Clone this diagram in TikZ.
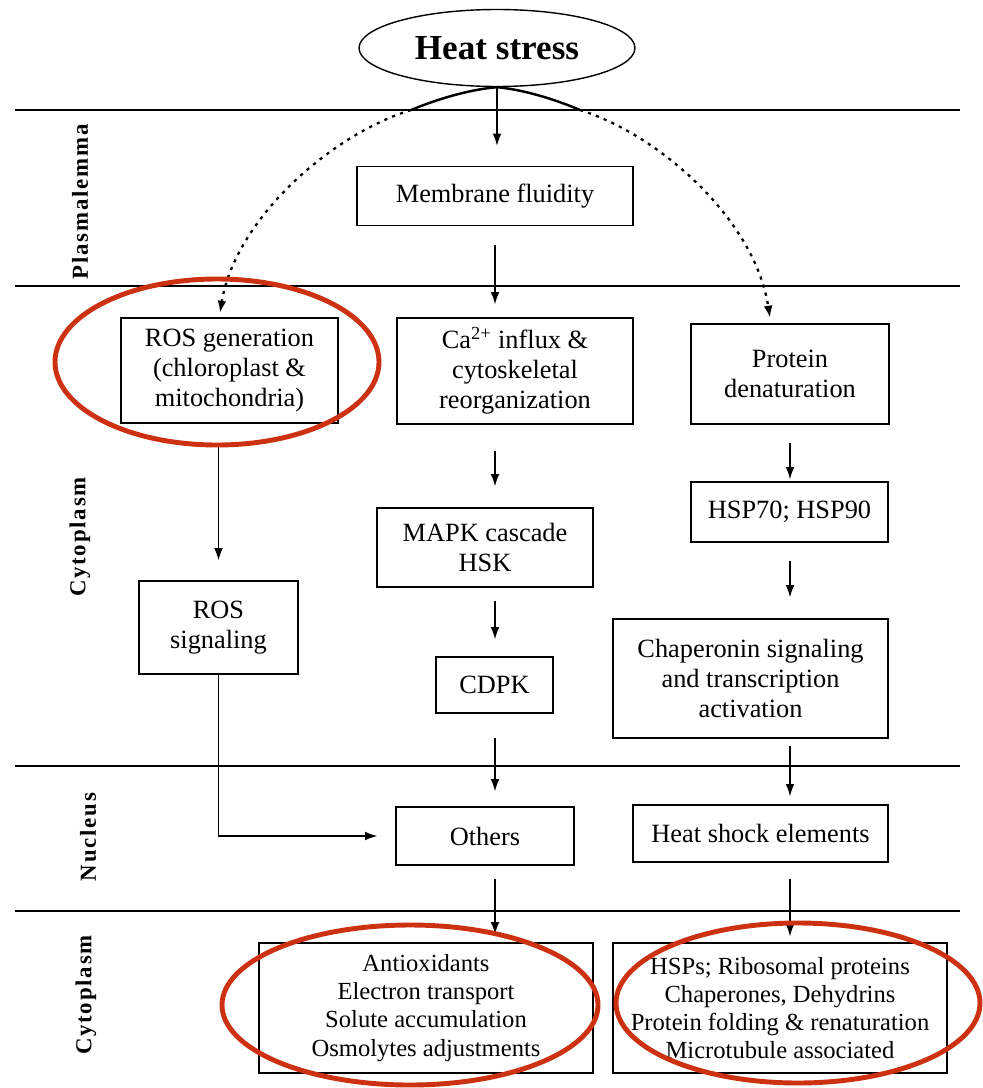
\documentclass[tikz,border=0pt]{standalone}
\usepackage{fontspec}
\setmainfont{Liberation Serif}
\newfontfamily\sidefont[LetterSpace=8]{Liberation Serif}
\usepackage{tikz}
\usetikzlibrary{shapes.geometric,arrows.meta}
\definecolor{circred}{RGB}{204,50,18}

\begin{document}
\begin{tikzpicture}[x=0.02cm,y=-0.02cm,
    box/.style={draw,line width=0.8pt,align=center,inner sep=0pt,font=\fontsize{15}{17}\selectfont},
    outbox/.style={box,font=\fontsize{14}{16}\selectfont},
    arr/.style={-{Latex[length=7pt,width=5pt]},line width=0.8pt},
    layer/.style={line width=0.8pt},
    sidelabel/.style={rotate=90,font=\sidefont\bfseries\fontsize{13}{15}\selectfont},
    hilite/.style={draw=circred,line width=2.8pt},
    dots/.style={line width=1.3pt,dash pattern=on 1.8pt off 3pt}]
            \path[fill=white] (0,0) rectangle (982,1088);
            \foreach \yy in {110,286,766,911}
                \draw[layer] (15,\yy) -- (960,\yy);

            \node[sidelabel] at (80,202) (plasma) {Plasmalemma};
            \node[sidelabel] at (80,537) (cyto) {Cytoplasm};
            \node[sidelabel] at (88,837) (nucl) {Nucleus};
            \node[sidelabel] at (86,995) (cytob) {Cytoplasm};

            \node[draw,ellipse,line width=0.8pt,inner sep=0pt,minimum width=5.52cm,minimum height=1.54cm,
                  font=\bfseries\fontsize{20}{24}\selectfont] at (497,48) (heat) {Heat stress};
            \node[box,minimum width=5.52cm,minimum height=1.18cm] at (495,196) (mf) {Membrane fluidity};
            \node[box,minimum width=4.34cm,minimum height=2.1cm] at (229.5,370.5) (rosgen) {ROS generation\\(chloroplast \&\\mitochondria)};
            \node[box,minimum width=4.72cm,minimum height=2.12cm] at (515,371) (ca) {Ca\textsuperscript{2+} influx \&\\cytoskeletal\\reorganization};
            \node[box,minimum width=3.96cm,minimum height=2.0cm] at (790,374) (pd) {Protein\\denaturation};
            \node[box,minimum width=4.32cm,minimum height=1.58cm] at (485,547.5) (mapk) {MAPK cascade\\HSK};
            \node[box,minimum width=3.94cm,minimum height=1.2cm] at (789.5,512) (hsp) {HSP70; HSP90};
            \node[box,minimum width=3.18cm,minimum height=1.86cm] at (218.5,627.5) (rossig) {ROS\\signaling};
            \node[box,minimum width=2.34cm,minimum height=1.12cm] at (494.5,685) (cdpk) {CDPK};
            \node[box,minimum width=5.5cm,minimum height=2.38cm] at (750.5,678.5) (chap) {Chaperonin signaling\\and transcription\\activation};
            \node[box,minimum width=3.56cm,minimum height=1.16cm] at (485,836) (others) {Others};
            \node[box,minimum width=5.1cm,minimum height=1.14cm] at (760.5,833.5) (hse) {Heat shock elements};
            \node[outbox,minimum width=6.68cm,minimum height=2.6cm] at (426,1008) (outl) {Antioxidants\\Electron transport\\Solute accumulation\\Osmolytes adjustments};
            \node[outbox,minimum width=6.68cm,minimum height=2.6cm] at (780,1008) (outr) {HSPs; Ribosomal proteins\\Chaperones, Dehydrins\\Protein folding \& renaturation\\Microtubule associated};

            \draw[arr,shorten >=0.4cm] (heat.south) -- (heat.south |- mf.north);
            \draw[arr,shorten <=0.38cm,shorten >=0.26cm] (mf.south) -- (mf.south |- ca.north);
            \draw[arr,shorten <=0.52cm,shorten >=0.42cm] (ca.south -| mf.south) -- (mf.south |- mapk.north);
            \draw[arr,shorten <=0.26cm,shorten >=0.34cm] (mapk.south -| mf.south) -- (mf.south |- cdpk.north);
            \draw[arr,shorten <=0.48cm,shorten >=0.3cm] (cdpk.south -| mf.south) -- (mf.south |- others.north);
            \draw[arr,shorten <=0.26cm,shorten >=0.16cm] (others.south -| mf.south) -- (mf.south |- outl.north);

            \draw[arr,shorten <=0.36cm,shorten >=0.04cm] (pd.south) -- (pd.south |- hsp.north);
            \draw[arr,shorten <=0.36cm,shorten >=0.42cm] (hsp.south -| pd.south) -- (pd.south |- chap.north);
            \draw[arr,shorten <=0.14cm,shorten >=0.16cm] (chap.south -| pd.south) -- (pd.south |- hse.north);
            \draw[arr,shorten <=0.32cm,shorten >=0.12cm] (hse.south -| pd.south) -- (pd.south |- outr.north);

            \draw[arr,shorten <=0.46cm,shorten >=0.4cm] (rosgen.south -| rossig.north) -- (rossig.north);
            \draw[arr,shorten >=0.36cm] (rossig.south) |- (others.west);

            \coordinate (jl) at (411,110);
            \coordinate (jr) at (580,110);
            \coordinate (rosin) at (220,313);
            \coordinate (pdin) at (770,318);
            \draw[line width=1.4pt] (jl) .. controls (445,96) and (475,89) .. (heat.south)
                                    .. controls (517,89) and (547,96) .. (jr);
            \draw[dots,-{Latex[length=7pt,width=5pt]}] (jl) .. controls (330,135) and (235,220) .. (rosin);
            \draw[dots,-{Latex[length=7pt,width=5pt]}] (jr) .. controls (660,135) and (755,220) .. (pdin);

            \draw[hilite] (217,362) ellipse [x radius=162, y radius=83];
            \draw[hilite] (410,1005) ellipse [x radius=188, y radius=80];
            \draw[hilite] (798,1003) ellipse [x radius=182, y radius=80];
        \end{tikzpicture}
\end{document}
